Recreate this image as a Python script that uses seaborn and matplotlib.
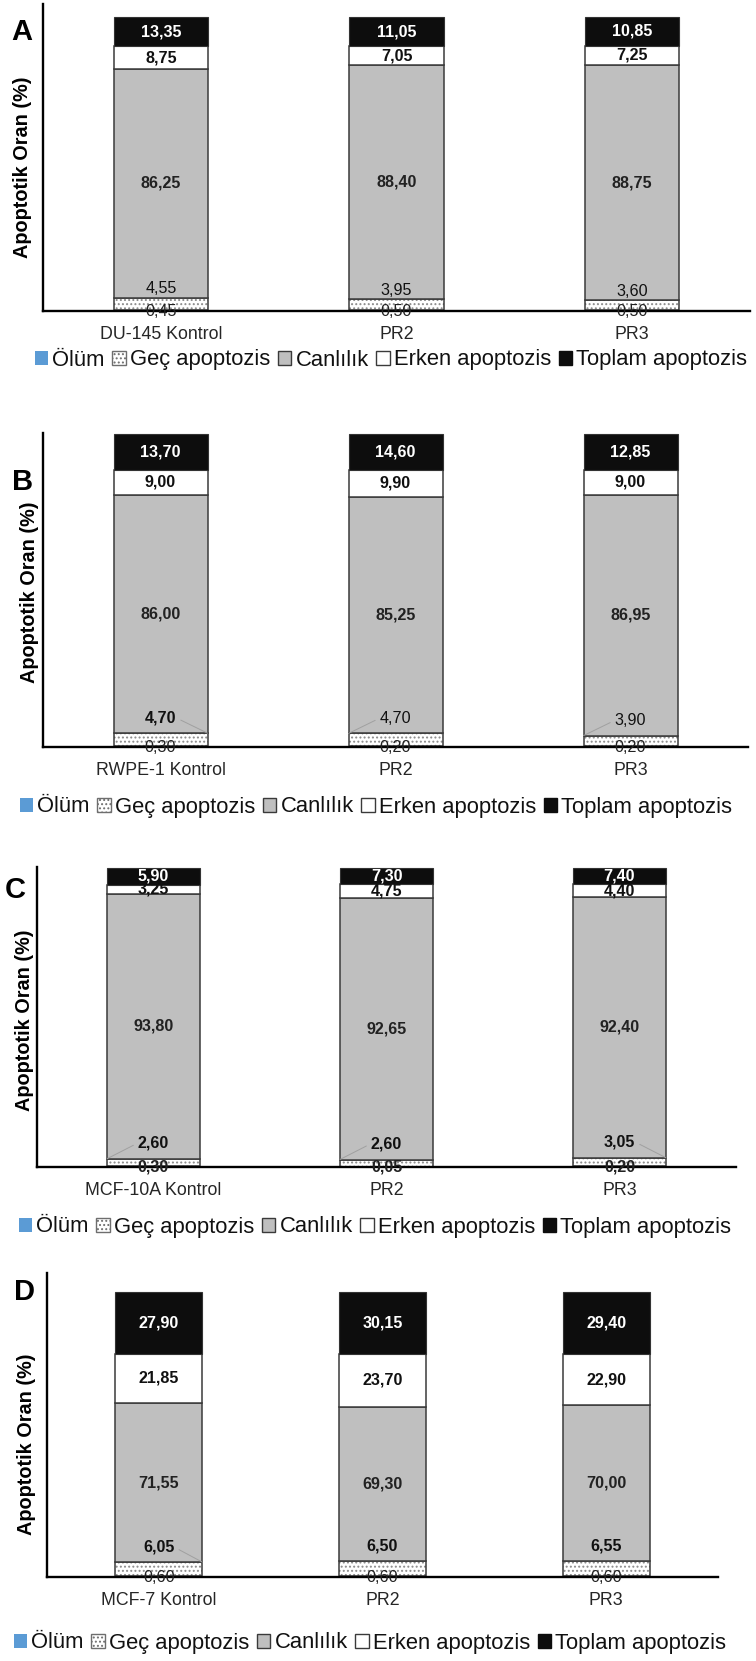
import matplotlib
matplotlib.use("Agg")
import matplotlib.pyplot as plt
import seaborn as sns
from matplotlib.patches import Patch

sns.set_theme(style="white")
plt.rcParams["font.family"] = ["Liberation Sans", "DejaVu Sans"]
plt.rcParams["hatch.linewidth"] = 0.9

# ---------------- data ----------------
series_names = ["Ölüm", "Geç apoptozis", "Canlılık", "Erken apoptozis", "Toplam apoptozis"]

cats_A = ["DU-145 Kontrol", "PR2", "PR3"]
olum_A = [0.45, 0.50, 0.50]
gec_A = [4.55, 3.95, 3.60]
canli_A = [86.25, 88.40, 88.75]
erken_A = [8.75, 7.05, 7.25]
toplam_A = [13.35, 11.05, 10.85]

cats_B = ["RWPE-1 Kontrol", "PR2", "PR3"]
olum_B = [0.30, 0.20, 0.20]
gec_B = [4.70, 4.70, 3.90]
canli_B = [86.00, 85.25, 86.95]
erken_B = [9.00, 9.90, 9.00]
toplam_B = [13.70, 14.60, 12.85]

cats_C = ["MCF-10A Kontrol", "PR2", "PR3"]
olum_C = [0.30, 0.05, 0.20]
gec_C = [2.60, 2.60, 3.05]
canli_C = [93.80, 92.65, 92.40]
erken_C = [3.25, 4.75, 4.40]
toplam_C = [5.90, 7.30, 7.40]

cats_D = ["MCF-7 Kontrol", "PR2", "PR3"]
olum_D = [0.60, 0.60, 0.60]
gec_D = [6.05, 6.50, 6.55]
canli_D = [71.55, 69.30, 70.00]
erken_D = [21.85, 23.70, 22.90]
toplam_D = [27.90, 30.15, 29.40]

ylabel_text = "Apoptotik Oran (%)"

# ---------------- style / layout ----------------
W, H = 756, 1661
C_OLUM = "#5b9bd5"
C_GRAY = "#bfbfbf"
C_BLACK = "#0d0d0d"
C_EDGE = "#3a3a3a"
VAL_FS = 11.6

panels = [
    dict(letter="A", cats=cats_A, olum=olum_A, gec=gec_A, canli=canli_A, erken=erken_A, toplam=toplam_A,
         box=(43, 750, 4, 311), bar_top=17, width=0.40, gec_off=3.4,
         letter_xy=(22, 32), ylabel_xy=(23, 167), legend_xy=(391, 360),
         gec_bold=[False, False, False], olum_bold=[False, False, False], leader=[0, 0, 0]),
    dict(letter="B", cats=cats_B, olum=olum_B, gec=gec_B, canli=canli_B, erken=erken_B, toplam=toplam_B,
         box=(43, 748, 433, 747), bar_top=434, width=0.40, gec_off=5.5,
         letter_xy=(23, 482), ylabel_xy=(30, 592), legend_xy=(376, 807),
         gec_bold=[True, False, False], olum_bold=[False, False, False], leader=[1, -1, -1]),
    dict(letter="C", cats=cats_C, olum=olum_C, gec=gec_C, canli=canli_C, erken=erken_C, toplam=toplam_C,
         box=(37, 736, 867, 1167), bar_top=868, width=0.40, gec_off=5.6,
         letter_xy=(15, 890), ylabel_xy=(25, 1020), legend_xy=(375, 1227),
         gec_bold=[True, True, True], olum_bold=[True, True, True], leader=[-1, -1, 1]),
    dict(letter="D", cats=cats_D, olum=olum_D, gec=gec_D, canli=canli_D, erken=erken_D, toplam=toplam_D,
         box=(47, 718, 1273, 1577), bar_top=1292, width=0.39, gec_off=6.7,
         letter_xy=(25, 1292), ylabel_xy=(27, 1444), legend_xy=(370, 1643),
         gec_bold=[True, True, True], olum_bold=[False, False, False], leader=[1, 0, 0]),
]


def fmt(v):
    return f"{v:.2f}".replace(".", ",")


fig = plt.figure(figsize=(W / 100, H / 100), dpi=100)

legend_handles = [
    Patch(facecolor=C_OLUM, edgecolor="none"),
    Patch(facecolor="white", edgecolor="#6e6e6e", hatch="...."),
    Patch(facecolor=C_GRAY, edgecolor=C_EDGE),
    Patch(facecolor="white", edgecolor=C_EDGE),
    Patch(facecolor=C_BLACK, edgecolor=C_BLACK),
]

for p in panels:
    l, r, t, b = p["box"]
    ax = fig.add_axes([l / W, 1 - b / H, (r - l) / W, (b - t) / H])
    cats = p["cats"]
    n = len(cats)
    olum, gec, canli, erken, toplam = p["olum"], p["gec"], p["canli"], p["erken"], p["toplam"]
    totals = [olum[i] + gec[i] + canli[i] + erken[i] + toplam[i] for i in range(n)]
    cap = min(totals)
    ylim_top = cap * (b - t) / (b - p["bar_top"])
    bw = p["width"]

    b1 = [0.0] * n
    b2 = [olum[i] for i in range(n)]
    b3 = [b2[i] + gec[i] for i in range(n)]
    b4 = [b3[i] + canli[i] for i in range(n)]
    b5 = [b4[i] + erken[i] for i in range(n)]
    top_vis = [min(toplam[i], cap - b5[i]) for i in range(n)]

    common = dict(x=cats, order=cats, ax=ax, width=bw, saturation=1, errorbar=None)
    sns.barplot(y=olum, bottom=b1, color=C_OLUM, linewidth=0, **common)
    sns.barplot(y=gec, bottom=b2, color="white", edgecolor="#8a8a8a", linewidth=0, hatch="....", **common)
    sns.barplot(y=gec, bottom=b2, fill=False, color=C_EDGE, linewidth=1.1, **common)
    sns.barplot(y=canli, bottom=b3, color=C_GRAY, edgecolor=C_EDGE, linewidth=1.1, **common)
    sns.barplot(y=erken, bottom=b4, color="white", edgecolor=C_EDGE, linewidth=1.1, **common)
    sns.barplot(y=top_vis, bottom=b5, color=C_BLACK, edgecolor="#333333", linewidth=0.8, **common)

    ax.set_xlim(-0.5, n - 0.5)
    ax.set_ylim(0, ylim_top)
    ax.set_xlabel("")
    ax.set_ylabel("")
    ax.set_yticks([])
    for s in ["top", "right"]:
        ax.spines[s].set_visible(False)
    for s in ["left", "bottom"]:
        ax.spines[s].set_color("black")
        ax.spines[s].set_linewidth(1.7)
    ax.tick_params(axis="x", length=0, pad=11, labelsize=12.8, labelcolor="#262626")
    ax.patch.set_alpha(0)

    for i in range(n):
        ax.text(i, b5[i] + top_vis[i] / 2, fmt(toplam[i]), ha="center", va="center",
                color="white", fontsize=VAL_FS, fontweight="bold")
        ax.text(i, b4[i] + erken[i] / 2, fmt(erken[i]), ha="center", va="center",
                color="#111111", fontsize=VAL_FS, fontweight="bold")
        ax.text(i, b3[i] + canli[i] / 2, fmt(canli[i]), ha="center", va="center",
                color="#222222", fontsize=VAL_FS, fontweight="bold")
        side = p["leader"][i]
        gw = "bold" if p["gec_bold"][i] else "normal"
        ytxt = b3[i] + p["gec_off"]
        if side != 0:
            ax.annotate(fmt(gec[i]), xy=(i + side * bw / 2, b3[i]), xytext=(i, ytxt),
                        textcoords="data", ha="center", va="center", fontsize=VAL_FS, fontweight=gw,
                        color="#111111",
                        arrowprops=dict(arrowstyle="-", color="#a0a0a0", lw=0.7,
                                        shrinkA=1, shrinkB=0,
                                        relpos=(1, 0.5) if side > 0 else (0, 0.5)))
        else:
            ax.text(i, ytxt, fmt(gec[i]), ha="center", va="center", fontsize=VAL_FS, fontweight=gw,
                    color="#111111")
        ow = "bold" if p["olum_bold"][i] else "normal"
        ax.text(i, 0, fmt(olum[i]), ha="center", va="center", fontsize=VAL_FS, fontweight=ow,
                color="#222222", clip_on=False)

    lx, ly = p["letter_xy"]
    fig.text(lx / W, 1 - ly / H, p["letter"], ha="center", va="center", fontsize=21,
             fontweight="bold", color="black")
    yx, yy = p["ylabel_xy"]
    fig.text(yx / W, 1 - yy / H, ylabel_text, ha="center", va="center", rotation=90,
             fontsize=14.3, fontweight="bold", color="black")
    gx, gy = p["legend_xy"]
    fig.legend(legend_handles, series_names, loc="center", bbox_to_anchor=(gx / W, 1 - gy / H),
               ncol=5, frameon=False, fontsize=15.8, handlelength=0.6, handleheight=0.6,
               handletextpad=0.2, columnspacing=0.35, borderaxespad=0, borderpad=0,
               labelcolor="#111111")

fig.savefig("out.png", dpi=100, facecolor="white")
